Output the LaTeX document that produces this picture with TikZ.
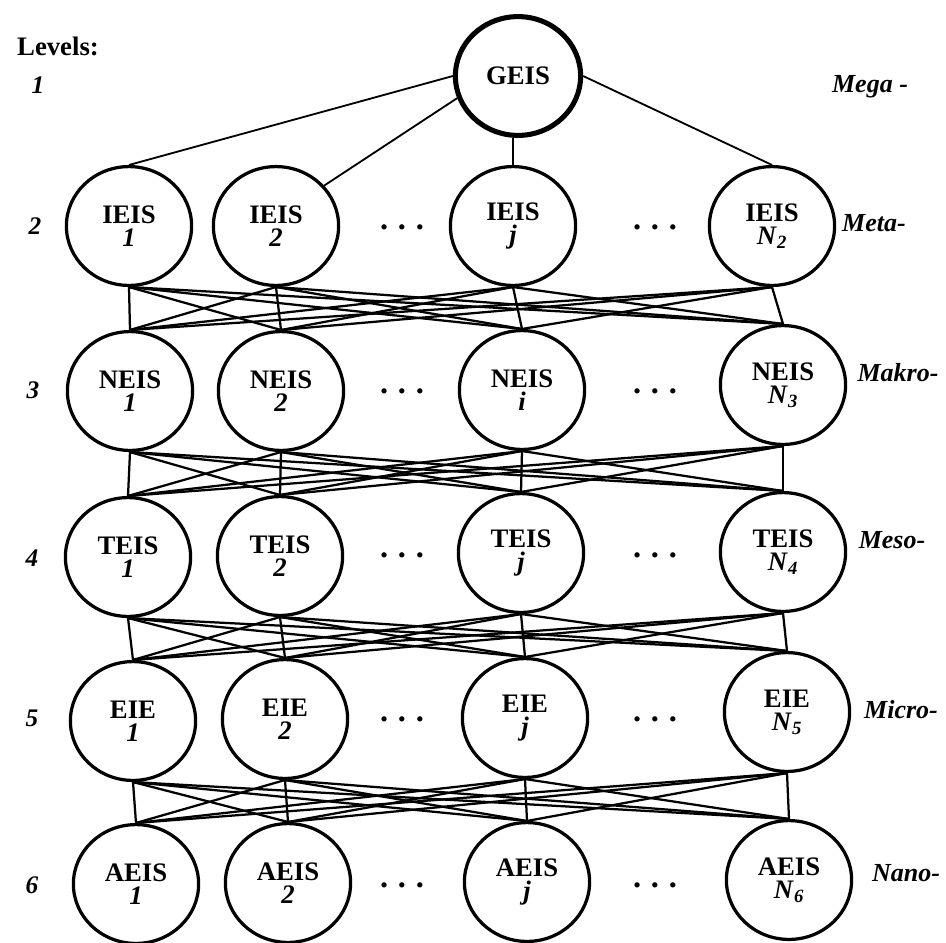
\documentclass[tikz,border=0pt]{standalone}
\usepackage{fontspec}
\setmainfont{Liberation Serif}
\usetikzlibrary{shapes.geometric}

\begin{document}
\begin{tikzpicture}[x=0.025cm,y=-0.025cm,
    unit/.style={draw,ellipse,line width=2.3pt,minimum width=3.13cm,minimum height=2.97cm,
      inner sep=0pt,align=center,font=\fontsize{19}{16.5}\selectfont\bfseries},
    link/.style={line width=1.6pt},
    lvl/.style={font=\fontsize{18}{20}\selectfont\bfseries\itshape},
    side/.style={font=\fontsize{18.5}{20}\selectfont\bfseries\itshape},
    gap/.style={font=\fontsize{23}{24}\selectfont\bfseries}]
  \useasboundingbox (0,0) rectangle (946,942);
  % levels
  \node[font=\fontsize{19}{20}\selectfont\bfseries] (lv) at (58,46) {Levels:};
  \node[lvl] (n1) at (38,85) {1};
  \node[lvl] (n2) at (35,226) {2};
  \node[lvl] (n3) at (33,390) {3};
  \node[lvl] (n4) at (32,558) {4};
  \node[lvl] (n5) at (32,718) {5};
  \node[lvl] (n6) at (32,885) {6};
  % level 1
  \node[unit,line width=3.6pt] (G) at (518,76) {GEIS};
  % level 2
  \node[unit] (I1) at (129,226) {IEIS\\\textit{1}};
  \node[unit] (I2) at (276,226) {IEIS\\\textit{2}};
  \node[unit] (I3) at (513,226) {IEIS\\\textit{j}};
  \node[unit] (I4) at (772,226) {IEIS\\\textit{N}\textsubscript{\textit{2}}};
  % level 3
  \node[unit] (N1) at (130,391) {NEIS\\\textit{1}};
  \node[unit] (N2) at (281,391) {NEIS\\\textit{2}};
  \node[unit] (N3) at (522,390) {NEIS\\\textit{i}};
  \node[unit] (N4) at (783,385) {NEIS\\\textit{N}\textsubscript{\textit{3}}};
  % level 4
  \node[unit] (T1) at (128,557) {TEIS\\\textit{1}};
  \node[unit] (T2) at (280,556) {TEIS\\\textit{2}};
  \node[unit] (T3) at (521,553) {TEIS\\\textit{j}};
  \node[unit] (T4) at (783,552) {TEIS\\\textit{N}\textsubscript{\textit{4}}};
  % level 5
  \node[unit] (E1) at (133,721) {EIE\\\textit{1}};
  \node[unit] (E2) at (285,719) {EIE\\\textit{2}};
  \node[unit] (E3) at (525,718) {EIE\\\textit{j}};
  \node[unit] (E4) at (787,712) {EIE\\\textit{N}\textsubscript{\textit{5}}};
  % level 6
  \node[unit] (A1) at (136,884) {AEIS\\\textit{1}};
  \node[unit] (A2) at (288,883) {AEIS\\\textit{2}};
  \node[unit] (A3) at (527,882) {AEIS\\\textit{j}};
  \node[unit] (A4) at (789,880) {AEIS\\\textit{N}\textsubscript{\textit{6}}};
  % dots
  \foreach \r/\y in {2/227,3/391,4/555,5/719,6/885} {
    \node[gap] (da\r) at (402,\y) {.\hspace{0.3em}.\hspace{0.3em}.};
    \node[gap] (db\r) at (655,\y) {.\hspace{0.3em}.\hspace{0.3em}.};
  }
  % names
  \node[side] (s1) at (870,87) {Mega -};
  \node[side] (s2) at (874,223) {Meta-};
  \node[side] (s3) at (898,373) {Makro-};
  \node[side] (s4) at (892,540) {Meso-};
  \node[side] (s5) at (901,710) {Micro-};
  \node[side] (s6) at (906,873) {Nano-};
  % links
  \draw[line width=1.3pt] (G.west) -- (I1.north);
  \draw[line width=1.3pt] (G.200) -- (I2.40);
  \draw[line width=1.3pt] (I3.north |- G.south) -- (I3.north);
  \draw[line width=1.3pt] (G.east) -- (I4.north);
  \foreach \u/\l in {I/N,N/T,T/E,E/A}
    \foreach \a in {1,...,4}
      \foreach \b in {1,...,4}
        \draw[link] (\u\a.south) -- (\l\b.north);
\end{tikzpicture}
\end{document}
